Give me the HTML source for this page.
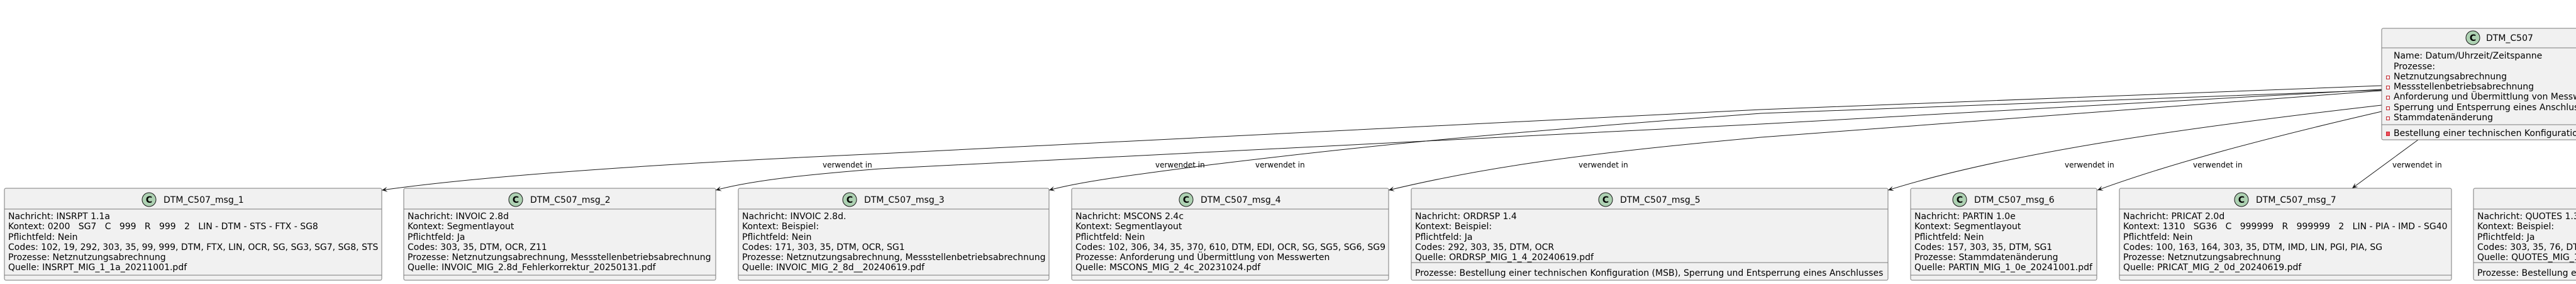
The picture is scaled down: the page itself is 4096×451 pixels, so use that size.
<!DOCTYPE html>
<html><head><meta charset="utf-8"><style>
html,body{margin:0;padding:0;background:#fff;}
svg{display:block;}
text{font-family:"DejaVu Sans","Liberation Sans",sans-serif;font-size:14px;fill:#000;white-space:pre;}
.l{font-size:12px;}
.box{fill:#F1F1F1;stroke:#7a7a7a;stroke-width:1;}
.sep{stroke:#7a7a7a;stroke-width:1;}
.ci{fill:#ADD1B2;stroke:#181818;stroke-width:1;}
.cl{font-weight:bold;font-size:14px;text-anchor:middle;}
.e{fill:none;stroke:#181818;stroke-width:1;}
</style></head><body>
<svg width="4096" height="451" viewBox="0 0 4096 451" xmlns="http://www.w3.org/2000/svg">
<defs>
<marker id="a" markerUnits="userSpaceOnUse" markerWidth="12" markerHeight="12" refX="0" refY="0" viewBox="-10 -6 12 12" orient="auto">
<path d="M0,0 L-9,-4 L-5,0 L-9,4 Z" fill="#181818"/>
</marker>
</defs>

<!-- connectors -->
<path class="e" marker-end="url(#a)" d="M3787,136 L2800,174 L1400,244 C1000,262 750,282 607,302"/>
<path class="e" marker-end="url(#a)" d="M3787,142 L2800,197 L1400,268 C1300,276 1200,285 1138,302"/>
<path class="e" marker-end="url(#a)" d="M3787,143 L2800,180 C2400,210 2200,228 1922,262 C1800,278 1720,288 1668,302"/>
<path class="e" marker-end="url(#a)" d="M3787,144 L2800,218 C2500,245 2350,268 2208,302"/>
<path class="e" marker-end="url(#a)" d="M3787,167 C3500,200 3200,240 3002,302"/>
<path class="e" marker-end="url(#a)" d="M3787,177 C3600,220 3450,260 3335,302"/>
<path class="e" marker-end="url(#a)" d="M3845,222 L3740,299"/>

<text class="l" x="1308" y="266">verwendet in</text>
<text class="l" x="1837" y="266">verwendet in</text>
<text class="l" x="1996" y="266">verwendet in</text>
<text class="l" x="2510" y="266">verwendet in</text>
<text class="l" x="3283" y="266">verwendet in</text>
<text class="l" x="3487" y="266">verwendet in</text>
<text class="l" x="3804" y="266">verwendet in</text>

<!-- DTM_C507 -->
<rect class="box" x="3787" y="45" width="500" height="177" rx="2.5"/>
<line class="sep" x1="3787" y1="76" x2="4287" y2="76"/>
<line class="sep" x1="3787" y1="198" x2="4287" y2="198"/>
<circle class="ci" cx="3932" cy="60" r="11"/><text class="cl" x="3932" y="65">C</text>
<text x="3953" y="65">DTM_C507</text>
<text x="3806" y="93">Name: Datum/Uhrzeit/Zeitspanne</text>
<text x="3806" y="110">Prozesse:</text>
<g fill="none" stroke="#C82930" stroke-width="1">
<rect x="3794.5" y="120.5" width="5" height="5"/>
<rect x="3794.5" y="136.5" width="5" height="5"/>
<rect x="3794.5" y="152.5" width="5" height="5"/>
<rect x="3794.5" y="169.5" width="5" height="5"/>
<rect x="3794.5" y="185.5" width="5" height="5"/>
</g>
<rect x="3794.5" y="209.5" width="5" height="6" fill="#F24D5C" stroke="#C82930"/>
<text x="3806" y="126">Netznutzungsabrechnung</text>
<text x="3806" y="142">Messstellenbetriebsabrechnung</text>
<text x="3806" y="158">Anforderung und Übermittlung von Messwerten</text>
<text x="3806" y="175">Sperrung und Entsperrung eines Anschlusses</text>
<text x="3806" y="191">Stammdatenänderung</text>
<text x="3806" y="216">Bestellung einer technischen Konfiguration (MSB)</text>

<!-- msg_1 -->
<rect class="box" x="7" y="299" width="600" height="146" rx="2.5"/>
<line class="sep" x1="7" y1="332" x2="607" y2="332"/><line class="sep" x1="7" y1="437" x2="607" y2="437"/>
<circle class="ci" cx="237" cy="317" r="11"/><text class="cl" x="237" y="322">C</text>
<text x="260" y="322">DTM_C507_msg_1</text>
<text x="13" y="348">Nachricht: INSRPT 1.1a</text>
<text x="13" y="364">Kontext: 0200   SG7   C   999   R   999   2   LIN - DTM - STS - FTX - SG8</text>
<text x="13" y="381">Pflichtfeld: Nein</text>
<text x="13" y="397">Codes: 102, 19, 292, 303, 35, 99, 999, DTM, FTX, LIN, OCR, SG, SG3, SG7, SG8, STS</text>
<text x="13" y="413">Prozesse: Netznutzungsabrechnung</text>
<text x="13" y="429">Quelle: INSRPT_MIG_1_1a_20211001.pdf</text>

<!-- msg_2 -->
<rect class="box" x="642" y="299" width="496" height="146" rx="2.5"/>
<line class="sep" x1="642" y1="332" x2="1138" y2="332"/><line class="sep" x1="642" y1="437" x2="1138" y2="437"/>
<circle class="ci" cx="820" cy="317" r="11"/><text class="cl" x="820" y="322">C</text>
<text x="843" y="322">DTM_C507_msg_2</text>
<text x="648" y="348">Nachricht: INVOIC 2.8d</text>
<text x="648" y="364">Kontext: Segmentlayout</text>
<text x="648" y="381">Pflichtfeld: Ja</text>
<text x="648" y="397">Codes: 303, 35, DTM, OCR, Z11</text>
<text x="648" y="413">Prozesse: Netznutzungsabrechnung, Messstellenbetriebsabrechnung</text>
<text x="648" y="429">Quelle: INVOIC_MIG_2.8d_Fehlerkorrektur_20250131.pdf</text>

<!-- msg_3 -->
<rect class="box" x="1174" y="299" width="494" height="146" rx="2.5"/>
<line class="sep" x1="1174" y1="332" x2="1668" y2="332"/><line class="sep" x1="1174" y1="437" x2="1668" y2="437"/>
<circle class="ci" cx="1351" cy="317" r="11"/><text class="cl" x="1351" y="322">C</text>
<text x="1374" y="322">DTM_C507_msg_3</text>
<text x="1180" y="348">Nachricht: INVOIC 2.8d.</text>
<text x="1180" y="364">Kontext: Beispiel:</text>
<text x="1180" y="381">Pflichtfeld: Nein</text>
<text x="1180" y="397">Codes: 171, 303, 35, DTM, OCR, SG1</text>
<text x="1180" y="413">Prozesse: Netznutzungsabrechnung, Messstellenbetriebsabrechnung</text>
<text x="1180" y="429">Quelle: INVOIC_MIG_2_8d__20240619.pdf</text>

<!-- msg_4 -->
<rect class="box" x="1704" y="299" width="504" height="146" rx="2.5"/>
<line class="sep" x1="1704" y1="332" x2="2208" y2="332"/><line class="sep" x1="1704" y1="437" x2="2208" y2="437"/>
<circle class="ci" cx="1886" cy="317" r="11"/><text class="cl" x="1886" y="322">C</text>
<text x="1909" y="322">DTM_C507_msg_4</text>
<text x="1710" y="348">Nachricht: MSCONS 2.4c</text>
<text x="1710" y="364">Kontext: Segmentlayout</text>
<text x="1710" y="381">Pflichtfeld: Nein</text>
<text x="1710" y="397">Codes: 102, 306, 34, 35, 370, 610, DTM, EDI, OCR, SG, SG5, SG6, SG9</text>
<text x="1710" y="413">Prozesse: Anforderung und Übermittlung von Messwerten</text>
<text x="1710" y="429">Quelle: MSCONS_MIG_2_4c_20231024.pdf</text>

<!-- msg_5 -->
<rect class="box" x="2244" y="299" width="758" height="146" rx="2.5"/>
<line class="sep" x1="2244" y1="332" x2="3002" y2="332"/><line class="sep" x1="2244" y1="417" x2="3002" y2="417"/>
<circle class="ci" cx="2553" cy="317" r="11"/><text class="cl" x="2553" y="322">C</text>
<text x="2576" y="322">DTM_C507_msg_5</text>
<text x="2250" y="348">Nachricht: ORDRSP 1.4</text>
<text x="2250" y="364">Kontext: Beispiel:</text>
<text x="2250" y="381">Pflichtfeld: Ja</text>
<text x="2250" y="397">Codes: 292, 303, 35, DTM, OCR</text>
<text x="2250" y="413">Quelle: ORDRSP_MIG_1_4_20240619.pdf</text>
<text x="2250" y="438">Prozesse: Bestellung einer technischen Konfiguration (MSB), Sperrung und Entsperrung eines Anschlusses</text>

<!-- msg_6 -->
<rect class="box" x="3038" y="299" width="296" height="146" rx="2.5"/>
<line class="sep" x1="3038" y1="332" x2="3334" y2="332"/><line class="sep" x1="3038" y1="437" x2="3334" y2="437"/>
<circle class="ci" cx="3116" cy="317" r="11"/><text class="cl" x="3116" y="322">C</text>
<text x="3139" y="322">DTM_C507_msg_6</text>
<text x="3044" y="348">Nachricht: PARTIN 1.0e</text>
<text x="3044" y="364">Kontext: Segmentlayout</text>
<text x="3044" y="381">Pflichtfeld: Nein</text>
<text x="3044" y="397">Codes: 157, 303, 35, DTM, SG1</text>
<text x="3044" y="413">Prozesse: Stammdatenänderung</text>
<text x="3044" y="429">Quelle: PARTIN_MIG_1_0e_20241001.pdf</text>

<!-- msg_7 -->
<rect class="box" x="3370" y="299" width="528" height="146" rx="2.5"/>
<line class="sep" x1="3370" y1="332" x2="3898" y2="332"/><line class="sep" x1="3370" y1="437" x2="3898" y2="437"/>
<circle class="ci" cx="3564" cy="317" r="11"/><text class="cl" x="3564" y="322">C</text>
<text x="3587" y="322">DTM_C507_msg_7</text>
<text x="3376" y="348">Nachricht: PRICAT 2.0d</text>
<text x="3376" y="364">Kontext: 1310   SG36   C   999999   R   999999   2   LIN - PIA - IMD - SG40</text>
<text x="3376" y="381">Pflichtfeld: Nein</text>
<text x="3376" y="397">Codes: 100, 163, 164, 303, 35, DTM, IMD, LIN, PGI, PIA, SG</text>
<text x="3376" y="413">Prozesse: Netznutzungsabrechnung</text>
<text x="3376" y="429">Quelle: PRICAT_MIG_2_0d_20240619.pdf</text>

<!-- msg_8 -->
<rect class="box" x="3933" y="299" width="758" height="146" rx="2.5"/>
<line class="sep" x1="3933" y1="332" x2="4691" y2="332"/><line class="sep" x1="3933" y1="417" x2="4691" y2="417"/>
<circle class="ci" cx="4242" cy="317" r="11"/><text class="cl" x="4242" y="322">C</text>
<text x="4265" y="322">DTM_C507_msg_8</text>
<text x="3939" y="348">Nachricht: QUOTES 1.3</text>
<text x="3939" y="364">Kontext: Beispiel:</text>
<text x="3939" y="381">Pflichtfeld: Ja</text>
<text x="3939" y="397">Codes: 303, 35, 76, DTM, OCR</text>
<text x="3939" y="413">Quelle: QUOTES_MIG_1_3_20240619.pdf</text>
<text x="3939" y="438">Prozesse: Bestellung einer technischen Konfiguration (MSB), Sperrung und Entsperrung eines Anschlusses</text>
</svg>
</body></html>
